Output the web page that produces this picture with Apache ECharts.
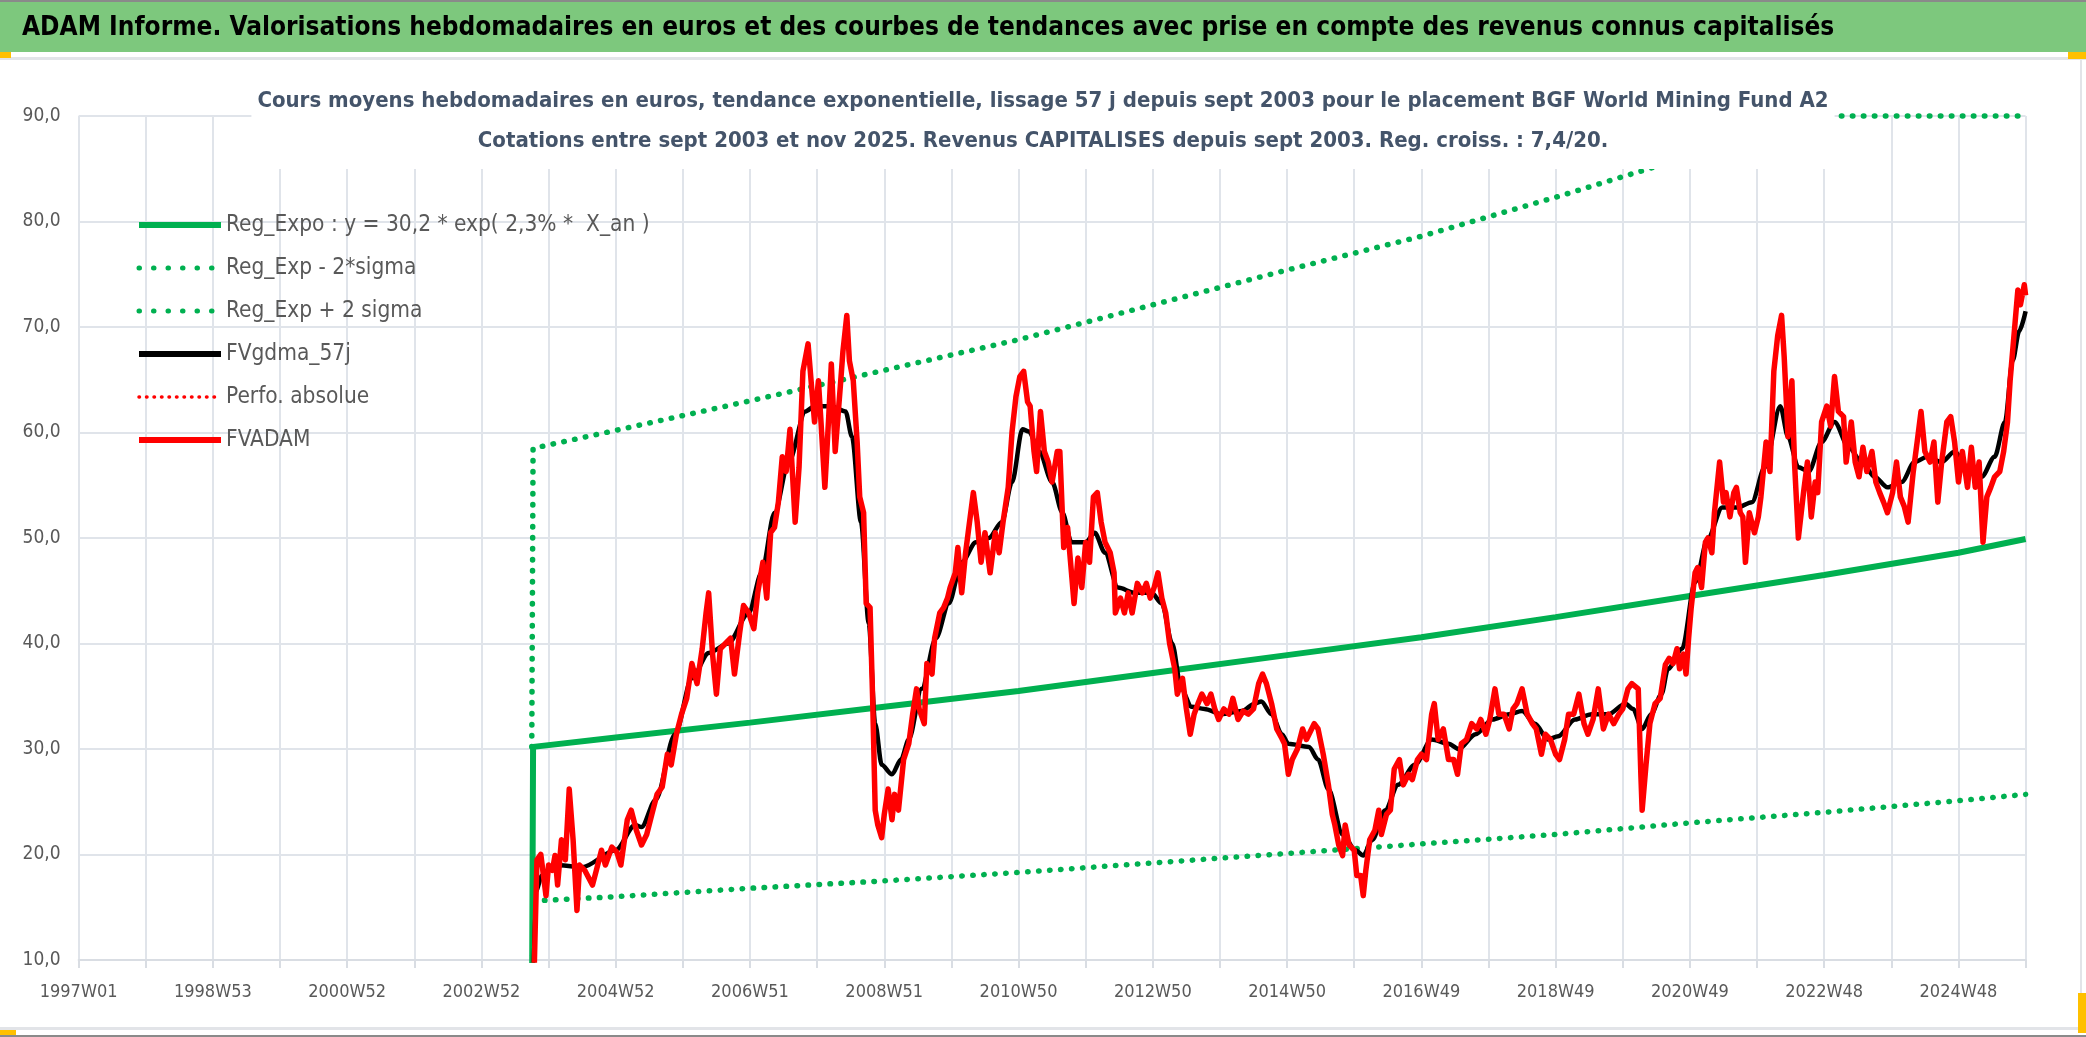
<!DOCTYPE html>
<html><head><meta charset="utf-8">
<script src="https://cdn.jsdelivr.net/npm/echarts@6/dist/echarts.min.js"></script>
<style>html,body{margin:0;padding:0;background:#fff;}#c{width:2086px;height:1037px;}</style>
</head><body><div id="c"></div>
<script>
// ---------- texts ----------
const headerTitle = 'ADAM Informe. Valorisations hebdomadaires en euros et des courbes de tendances avec prise en compte des revenus connus capitalisés';
const subTitle1 = 'Cours moyens hebdomadaires en euros, tendance exponentielle, lissage 57 j depuis sept 2003 pour le placement BGF World Mining Fund A2';
const subTitle2 = 'Cotations entre sept 2003 et nov 2025. Revenus CAPITALISES depuis sept 2003. Reg. croiss. : 7,4/20.';
const seriesNames = ['Reg_Expo : y = 30,2 * exp( 2,3% *  X_an )', 'Reg_Exp - 2*sigma', 'Reg_Exp + 2 sigma', 'FVgdma_57j', 'Perfo. absolue', 'FVADAM'];

// ---------- categories : ISO weeks 1997W01 .. 2025W48 ----------
function isoWeeksInYear(y){const d=new Date(Date.UTC(y,0,1)).getUTCDay();const leap=(y%4===0&&y%100!==0)||y%400===0;return (d===4||(leap&&d===3))?53:52;}
const weekLabels=[];
for(let y=1997;y<=2025;y++){const n=isoWeeksInYear(y);for(let w=1;w<=n;w++){if(y===2025&&w>48)break;weekLabels.push(y+'W'+String(w).padStart(2,'0'));}}

// ---------- series values : [week index, value] ----------
const regExpo = [[351,0],[352,30.2],[416,31.1],[520,32.5],[624,34.0],[728,35.5],[832,37.2],[936,38.9],[1040,40.6],[1144,42.5],[1248,44.5],[1352,46.5],[1456,48.6],[1508,49.9]];
const regLow = [[351,0],[352,15.6],[416,16.0],[520,16.8],[624,17.5],[728,18.3],[832,19.2],[936,20.1],[1040,21.0],[1144,21.9],[1248,23.0],[1352,24.0],[1456,25.1],[1508,25.7]];
const regHigh = [[351,30.2],[352,58.5],[416,60.2],[520,63.0],[624,65.9],[728,68.8],[832,72.1],[936,75.4],[1040,78.6],[1144,82.3],[1248,86.2],[1344,90.0],[1508,90.0]];
const perfoAbs = [];
const fvgdma = [[351,0],[354,16.5],[359,18.0],[369,19.0],[390,18.8],[416,20.4],[431,22.8],[436,22.6],[447,25.2],[462,31.4],[475,36.7],[488,39.1],[503,40.0],[519,42.9],[529,46.7],[539,52.4],[550,57.2],[563,62.0],[570,62.5],[583,62.5],[594,62.0],[599,59.6],[606,51.5],[612,41.9],[617,32.4],[622,28.5],[630,27.6],[637,29.0],[643,30.9],[653,35.7],[664,40.5],[674,43.8],[684,47.7],[695,49.6],[705,50.0],[715,51.5],[723,55.3],[731,60.3],[736,60.1],[744,58.2],[754,55.3],[762,52.4],[769,49.6],[780,49.6],[787,50.5],[795,48.6],[805,45.3],[818,44.8],[831,44.8],[839,43.8],[847,40.0],[854,35.7],[862,34.0],[872,33.8],[885,33.3],[901,33.6],[911,34.3],[916,34.5],[924,33.3],[932,31.4],[937,30.5],[953,30.2],[960,29.0],[968,26.2],[979,21.9],[989,20.4],[995,19.9],[1002,21.4],[1012,24.2],[1022,26.6],[1035,28.5],[1048,30.9],[1061,30.5],[1069,30.0],[1082,31.4],[1095,32.8],[1108,33.3],[1118,33.6],[1128,32.4],[1138,30.9],[1146,31.2],[1159,32.8],[1172,33.3],[1185,33.3],[1198,34.3],[1204,33.8],[1211,31.9],[1218,33.3],[1226,35.2],[1231,37.6],[1242,39.5],[1252,45.8],[1262,50.0],[1273,52.9],[1285,52.9],[1296,53.4],[1306,56.7],[1318,62.5],[1324,59.6],[1332,56.7],[1340,56.3],[1350,59.1],[1360,61.0],[1371,58.6],[1381,57.2],[1391,55.8],[1401,54.8],[1412,55.3],[1422,57.2],[1432,57.7],[1443,57.2],[1453,58.2],[1463,56.7],[1474,55.8],[1484,57.7],[1492,61.0],[1498,66.8],[1503,69.6],[1508,71.5]];
const fvadam = [[351,0],[355,19.5],[358,20.0],[362,16.1],[364,19.0],[367,18.5],[369,19.9],[371,17.1],[374,21.4],[377,19.5],[380,26.2],[383,21.4],[386,14.7],[388,19.0],[392,18.5],[398,17.1],[401,18.5],[405,20.4],[408,19.0],[413,20.7],[417,20.2],[420,19.0],[425,23.3],[428,24.2],[432,22.3],[436,20.9],[440,21.9],[444,23.8],[448,25.7],[452,26.4],[456,29.5],[459,28.5],[463,31.4],[467,33.3],[471,34.8],[475,38.1],[479,36.2],[483,39.5],[486,42.9],[488,44.8],[491,39.0],[494,35.2],[497,39.5],[501,40.0],[505,40.5],[508,37.1],[512,41.0],[515,43.6],[519,42.9],[523,41.4],[526,44.8],[530,47.7],[533,44.3],[536,50.5],[539,51.0],[542,53.4],[545,57.7],[548,56.3],[551,60.3],[555,51.5],[558,56.7],[561,65.8],[565,68.4],[568,63.9],[570,61.0],[573,64.9],[575,61.0],[578,54.8],[581,61.5],[583,66.5],[586,58.2],[590,64.4],[592,67.7],[595,71.1],[597,66.8],[600,64.9],[603,59.1],[605,53.9],[608,52.4],[610,43.8],[613,43.4],[615,34.8],[617,24.2],[619,22.8],[622,21.6],[624,23.8],[627,26.2],[630,23.3],[632,25.7],[635,24.2],[639,29.0],[643,30.5],[646,33.3],[649,35.7],[651,33.8],[655,32.4],[657,38.1],[661,37.1],[663,40.5],[667,42.9],[670,43.4],[673,44.3],[675,45.3],[679,46.7],[681,49.1],[684,44.8],[687,48.6],[689,50.5],[693,54.3],[696,51.5],[699,47.7],[702,50.5],[706,46.7],[710,50.5],[713,48.6],[716,51.5],[720,54.8],[723,60.1],[726,63.4],[729,65.3],[732,65.8],[735,62.9],[737,62.5],[740,58.2],[742,56.3],[745,62.0],[748,58.2],[751,57.2],[754,55.3],[758,58.2],[760,58.2],[763,49.1],[766,51.0],[769,46.7],[771,43.8],[774,48.1],[777,45.3],[780,49.6],[783,47.7],[786,53.9],[789,54.3],[792,51.5],[795,49.6],[799,48.6],[802,46.7],[803,42.9],[807,44.3],[810,42.9],[813,44.8],[816,42.9],[820,45.7],[824,44.8],[827,45.7],[830,44.3],[833,45.3],[836,46.7],[839,44.3],[842,42.9],[845,40.0],[849,37.6],[851,35.2],[855,36.7],[858,33.8],[861,31.4],[864,33.3],[867,34.3],[870,35.2],[874,34.3],[877,35.2],[880,33.8],[883,32.8],[887,33.8],[891,33.3],[894,34.8],[898,32.8],[902,33.6],[906,33.3],[910,33.8],[914,36.2],[917,37.1],[920,36.2],[924,34.3],[928,31.9],[932,31.0],[934,30.5],[937,27.6],[940,29.0],[944,30.0],[948,31.9],[951,30.9],[957,32.4],[960,31.9],[964,29.5],[968,26.6],[971,23.8],[973,22.8],[976,20.9],[979,19.9],[981,22.8],[984,20.9],[988,20.4],[990,18.0],[993,18.0],[995,16.1],[997,18.5],[1000,21.4],[1004,22.3],[1007,24.2],[1009,21.9],[1013,23.8],[1016,24.2],[1019,28.1],[1023,29.0],[1026,26.6],[1030,27.6],[1033,27.1],[1037,29.0],[1040,29.5],[1044,29.0],[1048,33.3],[1050,34.3],[1053,30.9],[1057,31.9],[1061,29.0],[1065,29.0],[1068,27.6],[1071,30.5],[1075,30.9],[1079,32.4],[1083,31.9],[1086,32.8],[1090,31.4],[1093,32.8],[1097,35.7],[1100,33.3],[1104,33.3],[1108,31.9],[1111,33.8],[1114,34.3],[1118,35.7],[1122,33.3],[1126,32.4],[1129,31.9],[1133,29.5],[1136,31.4],[1140,30.9],[1144,29.5],[1147,29.0],[1151,30.9],[1154,33.3],[1158,33.3],[1162,35.2],[1166,32.4],[1169,31.4],[1173,32.8],[1177,35.7],[1181,31.9],[1185,33.3],[1189,32.4],[1193,33.3],[1196,33.8],[1200,35.7],[1203,36.2],[1208,35.7],[1210,27.6],[1211,24.2],[1214,28.5],[1217,32.4],[1221,34.3],[1225,34.8],[1229,38.0],[1232,38.6],[1235,38.1],[1238,39.5],[1240,37.6],[1243,39.0],[1245,37.1],[1247,40.5],[1249,43.4],[1252,46.7],[1254,47.2],[1257,45.3],[1260,49.6],[1262,50.0],[1265,48.6],[1267,52.4],[1271,57.2],[1274,53.4],[1276,54.3],[1279,52.0],[1282,54.3],[1284,54.8],[1287,52.4],[1289,52.0],[1291,47.7],[1294,52.4],[1298,50.5],[1301,52.0],[1303,53.9],[1307,59.1],[1310,56.3],[1313,65.8],[1316,69.2],[1319,71.1],[1321,67.2],[1324,59.6],[1327,64.9],[1329,57.2],[1332,50.0],[1336,54.3],[1339,57.2],[1342,52.0],[1345,55.3],[1347,54.3],[1350,61.0],[1354,62.5],[1357,60.6],[1360,65.3],[1363,62.0],[1367,61.5],[1369,57.2],[1373,61.0],[1376,57.2],[1379,55.8],[1382,58.6],[1385,56.3],[1389,58.2],[1392,55.3],[1395,54.3],[1398,53.4],[1401,52.4],[1405,54.3],[1408,57.2],[1411,53.9],[1414,53.0],[1417,51.5],[1421,56.3],[1424,59.1],[1427,62.0],[1430,58.2],[1434,57.2],[1437,59.1],[1440,53.4],[1443,57.2],[1447,61.0],[1450,61.5],[1453,59.1],[1456,55.3],[1459,58.2],[1463,54.8],[1466,58.6],[1469,54.8],[1472,57.2],[1475,49.6],[1478,53.9],[1481,54.8],[1484,55.8],[1488,56.3],[1491,58.2],[1494,61.0],[1496,64.9],[1499,69.2],[1502,73.5],[1504,72.1],[1507,74.0],[1508,73.0]];

// ---------- chart ----------
const FONT = "'Liberation Sans Narrow','DejaVu Sans Condensed','Noto Sans',sans-serif";
const GREEN = '#00b050', RED = '#ff0000', GRID = '#e0e4ea', TXT = '#595959';
const dotted = (color, w, gap) => ({color: color, width: w, type: [0.5, gap], cap: 'round'});
const hideSym = {opacity: 0};

const chart = echarts.init(document.getElementById('c'), null, {renderer: 'canvas'});
chart.setOption({
  animation: false,
  backgroundColor: '#ffffff',
  graphic: [
    {type: 'rect', z: 0, shape: {x: 0, y: 0, width: 2086, height: 52}, style: {fill: '#7dc87d'}},
    {type: 'rect', z: 0, shape: {x: 0, y: 0, width: 2086, height: 2}, style: {fill: '#8a8a8a'}},
    {type: 'rect', z: 0, shape: {x: 0, y: 57, width: 2086, height: 3}, style: {fill: '#e2e4e8'}},
    {type: 'rect', z: 0, shape: {x: 0, y: 52, width: 11, height: 6}, style: {fill: '#ffc000'}},
    {type: 'rect', z: 0, shape: {x: 2068, y: 52, width: 18, height: 7}, style: {fill: '#ffc000'}},
    {type: 'rect', z: 0, shape: {x: 2080, y: 60, width: 2, height: 968}, style: {fill: '#e2e4e8'}},
    {type: 'rect', z: 0, shape: {x: 0, y: 1027, width: 2086, height: 3}, style: {fill: '#e2e4e8'}},
    {type: 'rect', z: 0, shape: {x: 0, y: 1035, width: 2086, height: 2}, style: {fill: '#8a8a8a'}},
    {type: 'rect', z: 0, shape: {x: 0, y: 1030, width: 16, height: 5}, style: {fill: '#ffc000'}},
    {type: 'rect', z: 0, shape: {x: 2078, y: 993, width: 8, height: 40}, style: {fill: '#ffc000'}}
  ],
  title: [
    {text: headerTitle, left: 17, top: 10, padding: 5,
     textStyle: {fontFamily: FONT, fontWeight: 'bold', fontSize: 26, color: '#000000'}},
    {text: subTitle1 + '\n' + subTitle2, left: 'center', top: 61, padding: [20, 6, 8, 6],
     backgroundColor: '#ffffff',
     textStyle: {fontFamily: FONT, fontWeight: 'bold', fontSize: 22, lineHeight: 40, color: '#44546a'}}
  ],
  legend: {
    orient: 'vertical', left: 131, top: 208, itemWidth: 82, itemHeight: 14, itemGap: 19,
    selectedMode: false,
    data: [
      {name: seriesNames[0], itemStyle: hideSym, lineStyle: {width: 6}},
      {name: seriesNames[1], itemStyle: hideSym, lineStyle: {width: 5, type: [0.5, 14], cap: 'round'}},
      {name: seriesNames[2], itemStyle: hideSym, lineStyle: {width: 5, type: [0.5, 14], cap: 'round'}},
      {name: seriesNames[3], itemStyle: hideSym, lineStyle: {width: 6}},
      {name: seriesNames[4], itemStyle: hideSym, lineStyle: {width: 3.5, type: [0.5, 7], cap: 'round'}},
      {name: seriesNames[5], itemStyle: hideSym, lineStyle: {width: 6}}
    ],
    textStyle: {fontFamily: FONT, fontSize: 22.5, lineHeight: 24, color: TXT}
  },
  grid: {left: 78.6, right: 60.4, top: 116, bottom: 77, containLabel: false},
  xAxis: {
    type: 'category', data: weekLabels, boundaryGap: false,
    axisLine: {show: true, lineStyle: {color: '#d9dde3', width: 2}},
    axisTick: {show: true, interval: 51, length: 8, lineStyle: {color: '#d9dde3', width: 2}},
    axisLabel: {interval: 103, color: TXT, fontFamily: FONT, fontSize: 18, margin: 23},
    splitLine: {show: true, interval: 51, lineStyle: {color: GRID, width: 2}}
  },
  yAxis: {
    type: 'value', min: 10, max: 90, interval: 10,
    axisLine: {show: false}, axisTick: {show: false},
    axisLabel: {color: TXT, fontFamily: FONT, fontSize: 19, margin: 18,
      formatter: v => v.toFixed(1).replace('.', ',')},
    splitLine: {show: true, lineStyle: {color: GRID, width: 2}}
  },
  series: [
    {name: seriesNames[0], type: 'line', data: regExpo, symbol: 'none', itemStyle: {color: GREEN},
     lineStyle: {color: GREEN, width: 6}},
    {name: seriesNames[1], type: 'line', data: regLow, symbol: 'none', itemStyle: {color: GREEN},
     lineStyle: dotted(GREEN, 5.5, 10.5)},
    {name: seriesNames[2], type: 'line', data: regHigh, symbol: 'none', clip: false, itemStyle: {color: GREEN},
     lineStyle: dotted(GREEN, 5.5, 10.5)},
    {name: seriesNames[3], type: 'line', data: fvgdma, symbol: 'none', smooth: 0.3, smoothMonotone: 'x',
     itemStyle: {color: '#000000'}, lineStyle: {color: '#000000', width: 4.5}},
    {name: seriesNames[4], type: 'line', data: perfoAbs, symbol: 'none', itemStyle: {color: RED},
     lineStyle: dotted(RED, 3.5, 6)},
    {name: seriesNames[5], type: 'line', data: fvadam, symbol: 'none', itemStyle: {color: RED},
     lineStyle: {color: RED, width: 5.5, join: 'round'}}
  ]
});
</script>
</body></html>
